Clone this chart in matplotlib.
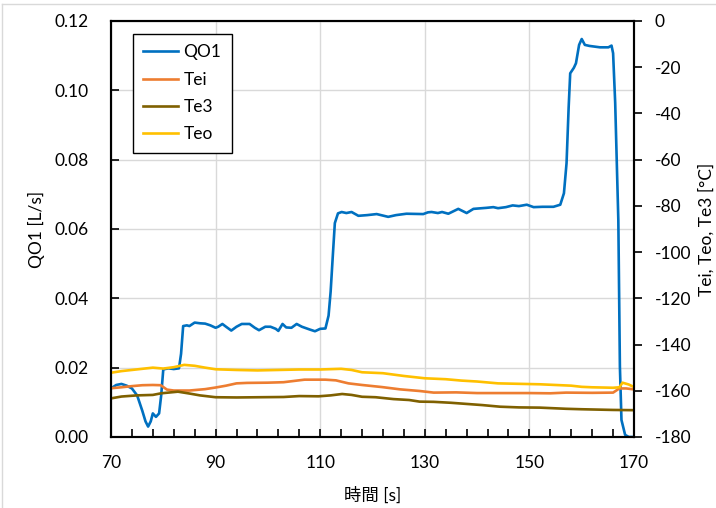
import matplotlib.pyplot as plt
from matplotlib.lines import Line2D
from matplotlib.ticker import MultipleLocator, FixedLocator, FormatStrFormatter

plt.rcParams['font.family'] = ['Lato', 'Noto Sans CJK JP', 'DejaVu Sans']
plt.rcParams['axes.unicode_minus'] = False

# Flow rate QO1 [L/s]
t_q = [70.0, 71.0, 72.0, 73.0, 74.0, 75.0, 76.0, 76.6, 77.1, 77.6, 78.0, 78.6, 79.2, 79.6,
       80.0, 81.0, 82.0, 83.0, 83.4, 83.8, 84.5, 85.0, 86.0, 87.0, 88.0, 89.0, 90.0, 90.5,
       91.3, 92.0, 93.0, 94.0, 95.0, 96.5, 97.5, 98.3, 99.5, 100.5, 101.5, 102.0, 102.8,
       103.5, 104.5, 105.5, 106.5, 108.0, 109.0, 110.0, 111.0, 111.6, 112.0, 112.4, 112.8,
       113.4, 114.1, 115.0, 116.0, 117.3, 119.0, 120.8, 123.0, 124.5, 126.5, 129.7, 130.6,
       131.3, 132.5, 133.3, 134.5, 136.4, 138.0, 139.3, 141.8, 143.1, 144.0, 145.5, 146.8,
       148.0, 149.5, 150.8, 152.5, 154.6, 155.9, 156.6, 157.1, 157.5, 157.8, 158.5, 158.9,
       159.5, 160.0, 160.6, 161.5, 163.5, 165.1, 165.7, 166.0, 166.4, 167.0, 167.3, 167.6,
       168.3, 169.0, 170.0]
qo1 = [0.0140, 0.0150, 0.0153, 0.0148, 0.0140, 0.0120, 0.0075, 0.0045, 0.0030, 0.0045,
       0.0068, 0.0058, 0.0068, 0.0120, 0.0195, 0.0198, 0.0196, 0.0198, 0.0240, 0.0320,
       0.0322, 0.0320, 0.0330, 0.0328, 0.0327, 0.0322, 0.0315, 0.0318, 0.0326, 0.0318,
       0.0307, 0.0318, 0.0326, 0.0326, 0.0315, 0.0308, 0.0318, 0.0318, 0.0312, 0.0306,
       0.0326, 0.0316, 0.0315, 0.0326, 0.0318, 0.0310, 0.0305, 0.0312, 0.0313, 0.0350,
       0.0420, 0.0520, 0.0617, 0.0645, 0.0649, 0.0646, 0.0649, 0.0638, 0.0640, 0.0643,
       0.0635, 0.0640, 0.0644, 0.0643, 0.0648, 0.0649, 0.0646, 0.0649, 0.0644, 0.0658,
       0.0646, 0.0658, 0.0661, 0.0663, 0.0660, 0.0663, 0.0668, 0.0666, 0.0670, 0.0663,
       0.0664, 0.0664, 0.0670, 0.0703, 0.0790, 0.0950, 0.1049, 0.1065, 0.1078, 0.1131,
       0.1148, 0.1131, 0.1128, 0.1124, 0.1124, 0.1129, 0.1107, 0.0964, 0.0626, 0.0203,
       0.0049, 0.0006, 0.0000, 0.0000]

# Temperatures [°C]
t_teo = [70, 72, 74, 76, 78, 80, 82, 84, 86, 88, 90, 94, 98, 102, 106, 110, 114, 116, 118,
         122, 126, 130, 134, 137, 140, 144, 148, 152, 156, 158, 160, 162, 166, 167.2, 167.8,
         169, 170]
teo = [-152.2, -151.5, -151.0, -150.5, -150.0, -150.4, -149.8, -148.8, -149.2, -150.0,
       -150.7, -151.0, -151.2, -151.0, -150.8, -150.8, -150.5, -151.0, -152.0, -152.4,
       -153.6, -154.6, -155.0, -155.6, -156.0, -156.8, -157.0, -157.2, -157.6, -157.8,
       -158.3, -158.5, -158.7, -158.5, -156.5, -157.3, -158.4]

t_tei = [70, 72, 74, 76, 78, 79.5, 80.7, 82, 85, 88, 90, 92, 94, 96, 100, 103, 107, 111,
         113, 115.4, 118, 121.8, 125.3, 129, 131.7, 136, 140, 144.4, 150, 154, 157, 162,
         166, 167.2, 168.5, 170]
tei = [-158.9, -158.5, -158.0, -157.6, -157.5, -157.6, -159.5, -159.9, -159.9, -159.3,
       -158.6, -157.8, -156.8, -156.6, -156.5, -156.3, -155.2, -155.2, -155.5, -156.8,
       -157.5, -158.4, -159.4, -160.1, -160.8, -160.7, -161.0, -161.0, -161.0, -161.1,
       -160.8, -160.9, -160.8, -159.0, -159.0, -159.4]

t_te3 = [70, 72, 75, 78, 79.6, 82.8, 85, 87, 90, 94, 98.4, 103, 106, 109.7, 112, 114.2,
         116, 118, 120.6, 124, 127, 129, 131.7, 135, 138, 141, 144.4, 148, 152, 157, 160,
         166, 170]
te3 = [-163.3, -162.5, -162.0, -161.8, -161.1, -160.4, -161.2, -162.0, -162.8, -162.9,
       -162.8, -162.7, -162.3, -162.4, -162.0, -161.4, -161.8, -162.6, -162.8, -163.6,
       -164.0, -164.7, -164.8, -165.2, -165.7, -166.2, -166.9, -167.2, -167.3, -167.8,
       -168.0, -168.3, -168.4]

x_major = [70, 90, 110, 130, 150, 170]

c_q, c_tei, c_te3, c_teo = '#0070C0', '#ED7D31', '#7F6000', '#FFC000'
lw = 1.9

fig = plt.figure(figsize=(7.16, 5.08), dpi=100)
ax = fig.add_axes([0.155, 0.1398, 0.7305, 0.8189])
ax2 = ax.twinx()

ax.plot(t_q, qo1, color=c_q, lw=lw)
ax2.plot(t_tei, tei, color=c_tei, lw=lw)
ax2.plot(t_te3, te3, color=c_te3, lw=lw)
ax2.plot(t_teo, teo, color=c_teo, lw=lw)

ax.set_xlim(70, 170)
ax.set_ylim(0, 0.12)
ax2.set_ylim(-180, 0)

ax.xaxis.set_major_locator(FixedLocator(x_major))
ax.xaxis.set_minor_locator(FixedLocator(list(range(70, 171, 4))))
ax.yaxis.set_major_locator(MultipleLocator(0.02))
ax.yaxis.set_major_formatter(FormatStrFormatter('%.2f'))
ax2.yaxis.set_major_locator(MultipleLocator(20))

ax.grid(True, which='major', color='#D9D9D9', lw=1.0)
ax.set_axisbelow(True)

ax.tick_params(axis='x', which='both', direction='in', top=False, labelsize=12.5,
               pad=13, length=6, width=1.2)
ax.tick_params(axis='y', direction='in', length=6, width=1.2, labelsize=12.5, pad=16)
ax2.tick_params(axis='y', direction='out', length=6, width=1.2, labelsize=12.5, pad=9)

for a in (ax, ax2):
    for s in a.spines.values():
        s.set_linewidth(1.5)
        s.set_color('black')

ax.set_ylabel('QO1 [L/s]', fontsize=12.5, labelpad=7)
ax2.set_ylabel('Tei, Teo, Te3 [°C]', fontsize=12.5, labelpad=5)
ax.set_xlabel('時間 [s]', fontsize=12.5, labelpad=11)

handles = [Line2D([], [], color=c, lw=lw) for c in (c_q, c_tei, c_te3, c_teo)]
leg = ax2.legend(handles, ['QO1', 'Tei', 'Te3', 'Teo'], loc='upper left',
                 bbox_to_anchor=(0.042, 0.969), borderaxespad=0, fontsize=12.5,
                 fancybox=False, edgecolor='black', framealpha=1,
                 handlelength=2.0, handletextpad=0.3, labelspacing=0.65,
                 borderpad=0.6)
leg.get_frame().set_linewidth(1.0)

# light frame around the chart area
fig.add_artist(Line2D([2 / 716, 2 / 716], [0, 1 - 4 / 508], color='#D9D9D9', lw=1,
                      transform=fig.transFigure))
fig.add_artist(Line2D([2 / 716, 1], [1 - 4 / 508, 1 - 4 / 508], color='#D9D9D9', lw=1,
                      transform=fig.transFigure))

fig.savefig('out.png', dpi=100)
